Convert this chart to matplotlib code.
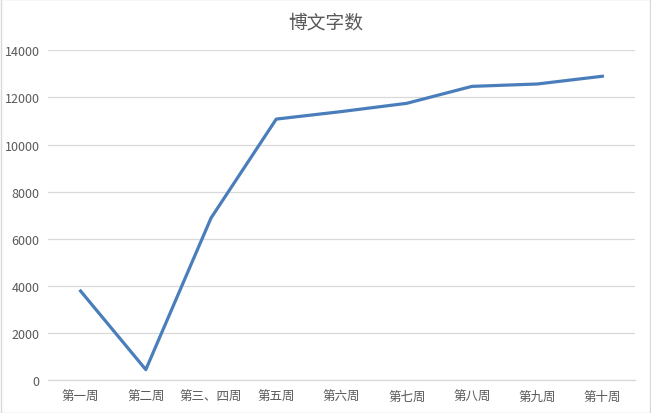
import matplotlib
matplotlib.use("Agg")
import matplotlib.pyplot as plt

plt.rcParams['font.family'] = ['Noto Sans CJK SC', 'DejaVu Sans']

# 数据
weeks = ["第一周", "第二周", "第三、四周", "第五周", "第六周",
         "第七周", "第八周", "第九周", "第十周"]
word_counts = [3780, 440, 6880, 11080, 11400, 11750, 12470, 12570, 12900]
y_ticks = [0, 2000, 4000, 6000, 8000, 10000, 12000, 14000]

text_color = "#595959"
grid_color = "#D9D9D9"
line_color = "#4A7EBB"

fig = plt.figure(figsize=(6.51, 4.14), dpi=100)
ax = fig.add_axes([0.0737, 0.0797, 0.9017, 0.7963])

x = range(len(weeks))
ax.plot(x, word_counts, color=line_color, linewidth=2.3, solid_joinstyle='round')

ax.set_xlim(-0.5, len(weeks) - 0.5)
ax.set_ylim(0, 14000)
ax.set_yticks(y_ticks)
ax.set_yticklabels([str(v) for v in y_ticks])
ax.set_xticks(list(x))
ax.set_xticklabels(weeks)

ax.grid(axis='y', color=grid_color, linewidth=0.9)
ax.set_axisbelow(True)
for side in ['top', 'right', 'left']:
    ax.spines[side].set_visible(False)
ax.spines['bottom'].set_color(grid_color)
ax.spines['bottom'].set_linewidth(0.9)
ax.tick_params(axis='both', length=0, colors=text_color, labelsize=9)
ax.tick_params(axis='x', pad=7)
ax.tick_params(axis='y', pad=6)

fig.text(0.5, 0.945, "博文字数", ha='center', va='center',
         fontsize=13.5, color=text_color)

# 外边框
fig.patches.append(plt.Rectangle((0.001, 0.001), 0.998, 0.998, transform=fig.transFigure,
                                 fill=False, edgecolor="#D9D9D9", linewidth=1))

fig.savefig("out.png", dpi=100)
